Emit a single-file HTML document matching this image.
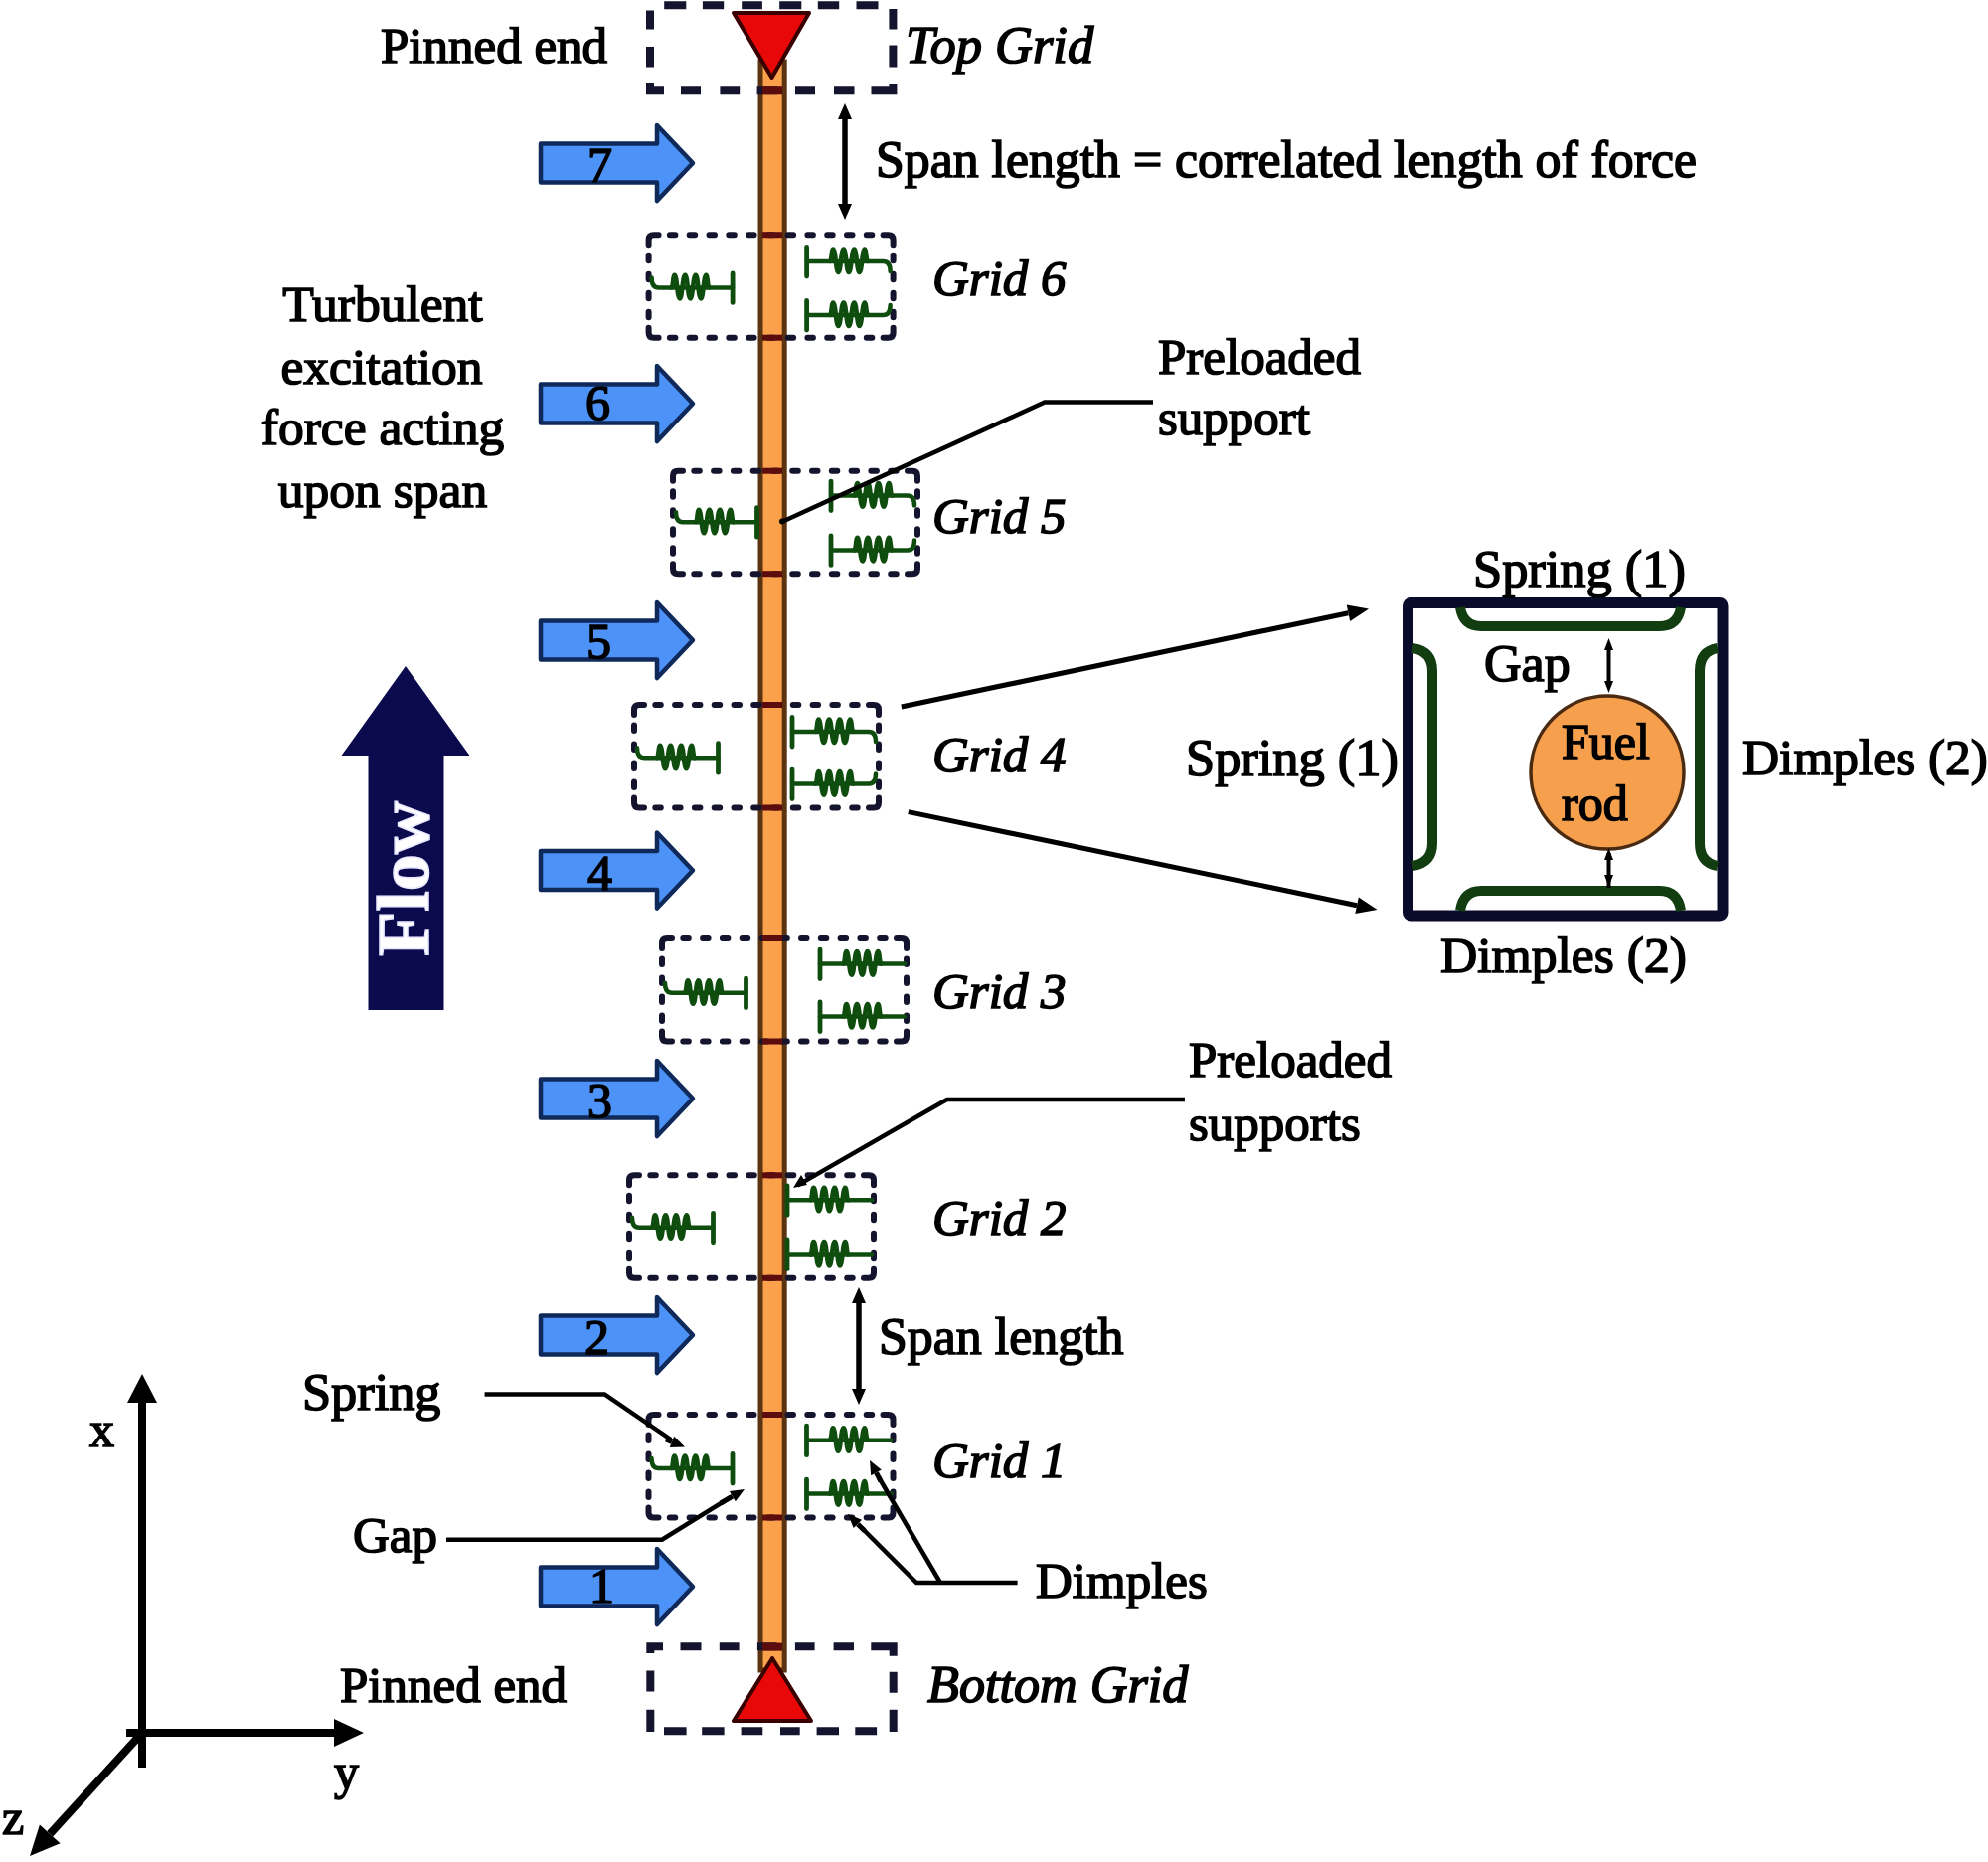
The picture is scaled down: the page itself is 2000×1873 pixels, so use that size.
<!DOCTYPE html><html><head><meta charset="utf-8"><style>html,body{margin:0;padding:0;background:#fff;}svg{display:block;}.t{font-family:"Liberation Serif",serif;fill:#000;stroke:#000;stroke-width:1.6px;}.ti{font-family:"Liberation Serif",serif;font-style:italic;fill:#000;stroke:#000;stroke-width:1.6px;}</style></head><body>
<svg width="2000" height="1873" viewBox="0 0 2000 1873">
<rect width="2000" height="1873" fill="#ffffff"/>
<rect x="765" y="62" width="24.2" height="1618" fill="#fba14c" stroke="#5a3410" stroke-width="5"/>
<path d="M738,13 L814,13 L776.5,78 Z" fill="#e80808" stroke="#3a0000" stroke-width="4" stroke-linejoin="round"/>
<path d="M738,1731 L816,1731 L777,1668 Z" fill="#e80808" stroke="#3a0000" stroke-width="4" stroke-linejoin="round"/>
<path d="M668.2,5.2 L690.3,5.2 M706.9,5.2 L728.2,5.2 M746.2,5.2 L766.9,5.2 M784.2,5.2 L806.3,5.2 M822.8,5.2 L844.2,5.2 M861.5,5.2 L883.5,5.2 M685.0,91.2 L705.0,91.2 M724.4,91.2 L744.2,91.2 M761.6,91.2 L782.2,91.2 M800.0,91.2 L820.0,91.2 M839.0,91.2 L859.5,91.2 M654,10.5 L654,29.6 M654,47.0 L654,67.6 M898.4,9.0 L898.4,29.6 M898.4,45.5 L898.4,67.6 M654,83 L654,91.2 L668,91.2 M876.5,91.2 L898.4,91.2 L898.4,84" fill="none" stroke="#14142e" stroke-width="8" stroke-linecap="butt" stroke-linejoin="miter"/>
<path d="M684.5,1656.3 L705.5,1656.3 M723.8,1656.3 L743.6,1656.3 M761.9,1656.3 L781.6,1656.3 M799.9,1656.3 L819.6,1656.3 M838.6,1656.3 L859.0,1656.3 M668.0,1741.2 L690.6,1741.2 M706.2,1741.2 L728.6,1741.2 M745.6,1741.2 L767.3,1741.2 M785.0,1741.2 L804.7,1741.2 M821.6,1741.2 L844.0,1741.2 M860.3,1741.2 L882.1,1741.2 M654.3,1680.4 L654.3,1701.5 M654.3,1719.8 L654.3,1742.0 M898.7,1681.7 L898.7,1702.8 M898.7,1719.8 L898.7,1742.0 M654.3,1663 L654.3,1656.3 L667,1656.3 M876.3,1656.3 L898.7,1656.3 L898.7,1665.8" fill="none" stroke="#14142e" stroke-width="8" stroke-linecap="butt" stroke-linejoin="miter"/>
<rect x="767" y="87.2" width="20.2" height="8" fill="#5c0c0c"/>
<rect x="767" y="1652.6" width="20.2" height="8" fill="#5c0c0c"/>
<path d="M652.6,246.2 L652.6,241.2 Q652.6,236.2 657.6,236.2 L662.6,236.2 M888.6,236.2 L893.6,236.2 Q898.6,236.2 898.6,241.2 L898.6,246.2 M898.6,329.7 L898.6,334.7 Q898.6,339.7 893.6,339.7 L888.6,339.7 M662.6,339.7 L657.6,339.7 Q652.6,339.7 652.6,334.7 L652.6,329.7 M673.9,236.2 L679.4,236.2 M693.7,236.2 L699.2,236.2 M713.5,236.2 L719.0,236.2 M733.3,236.2 L738.8,236.2 M753.1,236.2 L758.6,236.2 M772.9,236.2 L778.4,236.2 M792.6,236.2 L798.1,236.2 M812.4,236.2 L817.9,236.2 M832.2,236.2 L837.7,236.2 M852.0,236.2 L857.5,236.2 M871.8,236.2 L877.3,236.2 M898.6,256.7 L898.6,262.2 M898.6,275.7 L898.6,281.2 M898.6,294.7 L898.6,300.2 M898.6,313.7 L898.6,319.2 M673.9,339.7 L679.4,339.7 M693.7,339.7 L699.2,339.7 M713.5,339.7 L719.0,339.7 M733.3,339.7 L738.8,339.7 M753.1,339.7 L758.6,339.7 M772.9,339.7 L778.4,339.7 M792.6,339.7 L798.1,339.7 M812.4,339.7 L817.9,339.7 M832.2,339.7 L837.7,339.7 M852.0,339.7 L857.5,339.7 M871.8,339.7 L877.3,339.7 M652.6,256.7 L652.6,262.2 M652.6,275.7 L652.6,281.2 M652.6,294.7 L652.6,300.2 M652.6,313.7 L652.6,319.2" fill="none" stroke="#14142e" stroke-width="6" stroke-linecap="round" stroke-linejoin="round"/>
<rect x="767" y="233.2" width="20.2" height="6" fill="#5c0c0c"/>
<rect x="767" y="336.7" width="20.2" height="6" fill="#5c0c0c"/>
<path d="M655.6,279.4 Q655.6,289.4 662.6,289.4 L675.6,289.4 L737.1,289.4" fill="none" stroke="#0f4d0f" stroke-width="4.5" stroke-linejoin="round" stroke-linecap="round"/>
<path d="M675.6,289.4 C677.1,289.4 677.1,276.9 678.6,276.9 C681.2,276.9 681.2,300.4 683.9,300.4 C686.5,300.4 686.5,276.9 689.2,276.9 C691.8,276.9 691.8,300.4 694.5,300.4 C697.1,300.4 697.1,276.9 699.8,276.9 C702.4,276.9 702.4,300.4 705.1,300.4 C707.7,300.4 707.7,276.9 710.4,276.9 C711.9,276.9 711.9,289.4 713.4,289.4" fill="none" stroke="#0f4d0f" stroke-width="4.6" stroke-linejoin="round" stroke-linecap="round"/>
<line x1="737.1" y1="274.9" x2="737.1" y2="304.4" stroke="#0f4d0f" stroke-width="4.8" stroke-linecap="round"/>
<path d="M811.6,263.0 L888.6,263.0 Q895.6,263.0 895.6,273.0" fill="none" stroke="#0f4d0f" stroke-width="4.5" stroke-linejoin="round" stroke-linecap="round"/>
<path d="M835.1,263.0 C836.6,263.0 836.6,250.5 838.1,250.5 C840.8,250.5 840.8,274.0 843.4,274.0 C846.0,274.0 846.0,250.5 848.7,250.5 C851.3,250.5 851.3,274.0 854.0,274.0 C856.6,274.0 856.6,250.5 859.3,250.5 C861.9,250.5 861.9,274.0 864.6,274.0 C867.2,274.0 867.2,250.5 869.9,250.5 C871.4,250.5 871.4,263.0 872.9,263.0" fill="none" stroke="#0f4d0f" stroke-width="4.6" stroke-linejoin="round" stroke-linecap="round"/>
<line x1="811.6" y1="248.5" x2="811.6" y2="278.0" stroke="#0f4d0f" stroke-width="4.8" stroke-linecap="round"/>
<path d="M811.6,317.0 L888.6,317.0 Q895.6,317.0 895.6,307.0" fill="none" stroke="#0f4d0f" stroke-width="4.5" stroke-linejoin="round" stroke-linecap="round"/>
<path d="M835.1,317.0 C836.6,317.0 836.6,304.5 838.1,304.5 C840.8,304.5 840.8,328.0 843.4,328.0 C846.0,328.0 846.0,304.5 848.7,304.5 C851.3,304.5 851.3,328.0 854.0,328.0 C856.6,328.0 856.6,304.5 859.3,304.5 C861.9,304.5 861.9,328.0 864.6,328.0 C867.2,328.0 867.2,304.5 869.9,304.5 C871.4,304.5 871.4,317.0 872.9,317.0" fill="none" stroke="#0f4d0f" stroke-width="4.6" stroke-linejoin="round" stroke-linecap="round"/>
<line x1="811.6" y1="302.5" x2="811.6" y2="332.0" stroke="#0f4d0f" stroke-width="4.8" stroke-linecap="round"/>
<path d="M677,483.7 L677,478.7 Q677,473.7 682,473.7 L687,473.7 M913,473.7 L918,473.7 Q923,473.7 923,478.7 L923,483.7 M923,567.2 L923,572.2 Q923,577.2 918,577.2 L913,577.2 M687,577.2 L682,577.2 Q677,577.2 677,572.2 L677,567.2 M698.3,473.7 L703.8,473.7 M718.1,473.7 L723.6,473.7 M737.9,473.7 L743.4,473.7 M757.7,473.7 L763.2,473.7 M777.5,473.7 L783.0,473.7 M797.2,473.7 L802.8,473.7 M817.0,473.7 L822.5,473.7 M836.8,473.7 L842.3,473.7 M856.6,473.7 L862.1,473.7 M876.4,473.7 L881.9,473.7 M896.2,473.7 L901.7,473.7 M923.0,494.2 L923.0,499.7 M923.0,513.2 L923.0,518.7 M923.0,532.2 L923.0,537.7 M923.0,551.2 L923.0,556.7 M698.3,577.2 L703.8,577.2 M718.1,577.2 L723.6,577.2 M737.9,577.2 L743.4,577.2 M757.7,577.2 L763.2,577.2 M777.5,577.2 L783.0,577.2 M797.2,577.2 L802.8,577.2 M817.0,577.2 L822.5,577.2 M836.8,577.2 L842.3,577.2 M856.6,577.2 L862.1,577.2 M876.4,577.2 L881.9,577.2 M896.2,577.2 L901.7,577.2 M677.0,494.2 L677.0,499.7 M677.0,513.2 L677.0,518.7 M677.0,532.2 L677.0,537.7 M677.0,551.2 L677.0,556.7" fill="none" stroke="#14142e" stroke-width="6" stroke-linecap="round" stroke-linejoin="round"/>
<rect x="767" y="470.7" width="20.2" height="6" fill="#5c0c0c"/>
<rect x="767" y="574.2" width="20.2" height="6" fill="#5c0c0c"/>
<path d="M680.0,515.2 Q680.0,525.2 687.0,525.2 L700.0,525.2 L761.5,525.2" fill="none" stroke="#0f4d0f" stroke-width="4.5" stroke-linejoin="round" stroke-linecap="round"/>
<path d="M700.0,525.2 C701.5,525.2 701.5,512.7 703.0,512.7 C705.6,512.7 705.6,536.2 708.3,536.2 C710.9,536.2 710.9,512.7 713.6,512.7 C716.2,512.7 716.2,536.2 718.9,536.2 C721.5,536.2 721.5,512.7 724.2,512.7 C726.8,512.7 726.8,536.2 729.5,536.2 C732.1,536.2 732.1,512.7 734.8,512.7 C736.3,512.7 736.3,525.2 737.8,525.2" fill="none" stroke="#0f4d0f" stroke-width="4.6" stroke-linejoin="round" stroke-linecap="round"/>
<line x1="761.5" y1="510.7" x2="761.5" y2="540.2" stroke="#0f4d0f" stroke-width="4.8" stroke-linecap="round"/>
<path d="M836.0,498.6 L913.0,498.6 Q920.0,498.6 920.0,508.6" fill="none" stroke="#0f4d0f" stroke-width="4.5" stroke-linejoin="round" stroke-linecap="round"/>
<path d="M859.5,498.6 C861.0,498.6 861.0,486.1 862.5,486.1 C865.1,486.1 865.1,509.6 867.8,509.6 C870.4,509.6 870.4,486.1 873.1,486.1 C875.7,486.1 875.7,509.6 878.4,509.6 C881.0,509.6 881.0,486.1 883.7,486.1 C886.3,486.1 886.3,509.6 889.0,509.6 C891.6,509.6 891.6,486.1 894.3,486.1 C895.8,486.1 895.8,498.6 897.3,498.6" fill="none" stroke="#0f4d0f" stroke-width="4.6" stroke-linejoin="round" stroke-linecap="round"/>
<line x1="836.0" y1="484.1" x2="836.0" y2="513.6" stroke="#0f4d0f" stroke-width="4.8" stroke-linecap="round"/>
<path d="M836.0,553.4 L913.0,553.4 Q920.0,553.4 920.0,543.4" fill="none" stroke="#0f4d0f" stroke-width="4.5" stroke-linejoin="round" stroke-linecap="round"/>
<path d="M859.5,553.4 C861.0,553.4 861.0,540.9 862.5,540.9 C865.1,540.9 865.1,564.4 867.8,564.4 C870.4,564.4 870.4,540.9 873.1,540.9 C875.7,540.9 875.7,564.4 878.4,564.4 C881.0,564.4 881.0,540.9 883.7,540.9 C886.3,540.9 886.3,564.4 889.0,564.4 C891.6,564.4 891.6,540.9 894.3,540.9 C895.8,540.9 895.8,553.4 897.3,553.4" fill="none" stroke="#0f4d0f" stroke-width="4.6" stroke-linejoin="round" stroke-linecap="round"/>
<line x1="836.0" y1="538.9" x2="836.0" y2="568.4" stroke="#0f4d0f" stroke-width="4.8" stroke-linecap="round"/>
<path d="M638,719 L638,714 Q638,709 643,709 L648,709 M874,709 L879,709 Q884,709 884,714 L884,719 M884,802.5 L884,807.5 Q884,812.5 879,812.5 L874,812.5 M648,812.5 L643,812.5 Q638,812.5 638,807.5 L638,802.5 M659.3,709.0 L664.8,709.0 M679.1,709.0 L684.6,709.0 M698.9,709.0 L704.4,709.0 M718.7,709.0 L724.2,709.0 M738.5,709.0 L744.0,709.0 M758.2,709.0 L763.8,709.0 M778.0,709.0 L783.5,709.0 M797.8,709.0 L803.3,709.0 M817.6,709.0 L823.1,709.0 M837.4,709.0 L842.9,709.0 M857.2,709.0 L862.7,709.0 M884.0,729.5 L884.0,735.0 M884.0,748.5 L884.0,754.0 M884.0,767.5 L884.0,773.0 M884.0,786.5 L884.0,792.0 M659.3,812.5 L664.8,812.5 M679.1,812.5 L684.6,812.5 M698.9,812.5 L704.4,812.5 M718.7,812.5 L724.2,812.5 M738.5,812.5 L744.0,812.5 M758.2,812.5 L763.8,812.5 M778.0,812.5 L783.5,812.5 M797.8,812.5 L803.3,812.5 M817.6,812.5 L823.1,812.5 M837.4,812.5 L842.9,812.5 M857.2,812.5 L862.7,812.5 M638.0,729.5 L638.0,735.0 M638.0,748.5 L638.0,754.0 M638.0,767.5 L638.0,773.0 M638.0,786.5 L638.0,792.0" fill="none" stroke="#14142e" stroke-width="6" stroke-linecap="round" stroke-linejoin="round"/>
<rect x="767" y="706.0" width="20.2" height="6" fill="#5c0c0c"/>
<rect x="767" y="809.5" width="20.2" height="6" fill="#5c0c0c"/>
<path d="M641.0,752.2 Q641.0,762.2 648.0,762.2 L661.0,762.2 L722.5,762.2" fill="none" stroke="#0f4d0f" stroke-width="4.5" stroke-linejoin="round" stroke-linecap="round"/>
<path d="M661.0,762.2 C662.5,762.2 662.5,749.7 664.0,749.7 C666.6,749.7 666.6,773.2 669.3,773.2 C671.9,773.2 671.9,749.7 674.6,749.7 C677.2,749.7 677.2,773.2 679.9,773.2 C682.5,773.2 682.5,749.7 685.2,749.7 C687.8,749.7 687.8,773.2 690.5,773.2 C693.1,773.2 693.1,749.7 695.8,749.7 C697.3,749.7 697.3,762.2 698.8,762.2" fill="none" stroke="#0f4d0f" stroke-width="4.6" stroke-linejoin="round" stroke-linecap="round"/>
<line x1="722.5" y1="747.7" x2="722.5" y2="777.2" stroke="#0f4d0f" stroke-width="4.8" stroke-linecap="round"/>
<path d="M797.0,736.0 L874.0,736.0 Q881.0,736.0 881.0,746.0" fill="none" stroke="#0f4d0f" stroke-width="4.5" stroke-linejoin="round" stroke-linecap="round"/>
<path d="M820.5,736.0 C822.0,736.0 822.0,723.5 823.5,723.5 C826.1,723.5 826.1,747.0 828.8,747.0 C831.4,747.0 831.4,723.5 834.1,723.5 C836.7,723.5 836.7,747.0 839.4,747.0 C842.0,747.0 842.0,723.5 844.7,723.5 C847.3,723.5 847.3,747.0 850.0,747.0 C852.6,747.0 852.6,723.5 855.3,723.5 C856.8,723.5 856.8,736.0 858.3,736.0" fill="none" stroke="#0f4d0f" stroke-width="4.6" stroke-linejoin="round" stroke-linecap="round"/>
<line x1="797.0" y1="721.5" x2="797.0" y2="751.0" stroke="#0f4d0f" stroke-width="4.8" stroke-linecap="round"/>
<path d="M797.0,788.6 L874.0,788.6 Q881.0,788.6 881.0,778.6" fill="none" stroke="#0f4d0f" stroke-width="4.5" stroke-linejoin="round" stroke-linecap="round"/>
<path d="M820.5,788.6 C822.0,788.6 822.0,776.1 823.5,776.1 C826.1,776.1 826.1,799.6 828.8,799.6 C831.4,799.6 831.4,776.1 834.1,776.1 C836.7,776.1 836.7,799.6 839.4,799.6 C842.0,799.6 842.0,776.1 844.7,776.1 C847.3,776.1 847.3,799.6 850.0,799.6 C852.6,799.6 852.6,776.1 855.3,776.1 C856.8,776.1 856.8,788.6 858.3,788.6" fill="none" stroke="#0f4d0f" stroke-width="4.6" stroke-linejoin="round" stroke-linecap="round"/>
<line x1="797.0" y1="774.1" x2="797.0" y2="803.6" stroke="#0f4d0f" stroke-width="4.8" stroke-linecap="round"/>
<path d="M666,954 L666,949 Q666,944 671,944 L676,944 M902,944 L907,944 Q912,944 912,949 L912,954 M912,1037.5 L912,1042.5 Q912,1047.5 907,1047.5 L902,1047.5 M676,1047.5 L671,1047.5 Q666,1047.5 666,1042.5 L666,1037.5 M687.3,944.0 L692.8,944.0 M707.1,944.0 L712.6,944.0 M726.9,944.0 L732.4,944.0 M746.7,944.0 L752.2,944.0 M766.5,944.0 L772.0,944.0 M786.2,944.0 L791.8,944.0 M806.0,944.0 L811.5,944.0 M825.8,944.0 L831.3,944.0 M845.6,944.0 L851.1,944.0 M865.4,944.0 L870.9,944.0 M885.2,944.0 L890.7,944.0 M912.0,964.5 L912.0,970.0 M912.0,983.5 L912.0,989.0 M912.0,1002.5 L912.0,1008.0 M912.0,1021.5 L912.0,1027.0 M687.3,1047.5 L692.8,1047.5 M707.1,1047.5 L712.6,1047.5 M726.9,1047.5 L732.4,1047.5 M746.7,1047.5 L752.2,1047.5 M766.5,1047.5 L772.0,1047.5 M786.2,1047.5 L791.8,1047.5 M806.0,1047.5 L811.5,1047.5 M825.8,1047.5 L831.3,1047.5 M845.6,1047.5 L851.1,1047.5 M865.4,1047.5 L870.9,1047.5 M885.2,1047.5 L890.7,1047.5 M666.0,964.5 L666.0,970.0 M666.0,983.5 L666.0,989.0 M666.0,1002.5 L666.0,1008.0 M666.0,1021.5 L666.0,1027.0" fill="none" stroke="#14142e" stroke-width="6" stroke-linecap="round" stroke-linejoin="round"/>
<rect x="767" y="941.0" width="20.2" height="6" fill="#5c0c0c"/>
<rect x="767" y="1044.5" width="20.2" height="6" fill="#5c0c0c"/>
<path d="M669.0,988.7 Q669.0,998.7 676.0,998.7 L689.0,998.7 L750.5,998.7" fill="none" stroke="#0f4d0f" stroke-width="4.5" stroke-linejoin="round" stroke-linecap="round"/>
<path d="M689.0,998.7 C690.5,998.7 690.5,986.2 692.0,986.2 C694.6,986.2 694.6,1009.7 697.3,1009.7 C699.9,1009.7 699.9,986.2 702.6,986.2 C705.2,986.2 705.2,1009.7 707.9,1009.7 C710.5,1009.7 710.5,986.2 713.2,986.2 C715.8,986.2 715.8,1009.7 718.5,1009.7 C721.1,1009.7 721.1,986.2 723.8,986.2 C725.3,986.2 725.3,998.7 726.8,998.7" fill="none" stroke="#0f4d0f" stroke-width="4.6" stroke-linejoin="round" stroke-linecap="round"/>
<line x1="750.5" y1="984.2" x2="750.5" y2="1013.7" stroke="#0f4d0f" stroke-width="4.8" stroke-linecap="round"/>
<path d="M825.0,969.6 L910.0,969.6" fill="none" stroke="#0f4d0f" stroke-width="4.5" stroke-linejoin="round" stroke-linecap="round"/>
<path d="M848.5,969.6 C850.0,969.6 850.0,957.1 851.5,957.1 C854.1,957.1 854.1,980.6 856.8,980.6 C859.4,980.6 859.4,957.1 862.1,957.1 C864.7,957.1 864.7,980.6 867.4,980.6 C870.0,980.6 870.0,957.1 872.7,957.1 C875.3,957.1 875.3,980.6 878.0,980.6 C880.6,980.6 880.6,957.1 883.3,957.1 C884.8,957.1 884.8,969.6 886.3,969.6" fill="none" stroke="#0f4d0f" stroke-width="4.6" stroke-linejoin="round" stroke-linecap="round"/>
<line x1="825.0" y1="955.1" x2="825.0" y2="984.6" stroke="#0f4d0f" stroke-width="4.8" stroke-linecap="round"/>
<path d="M825.0,1022.5 L910.0,1022.5" fill="none" stroke="#0f4d0f" stroke-width="4.5" stroke-linejoin="round" stroke-linecap="round"/>
<path d="M848.5,1022.5 C850.0,1022.5 850.0,1010.0 851.5,1010.0 C854.1,1010.0 854.1,1033.5 856.8,1033.5 C859.4,1033.5 859.4,1010.0 862.1,1010.0 C864.7,1010.0 864.7,1033.5 867.4,1033.5 C870.0,1033.5 870.0,1010.0 872.7,1010.0 C875.3,1010.0 875.3,1033.5 878.0,1033.5 C880.6,1033.5 880.6,1010.0 883.3,1010.0 C884.8,1010.0 884.8,1022.5 886.3,1022.5" fill="none" stroke="#0f4d0f" stroke-width="4.6" stroke-linejoin="round" stroke-linecap="round"/>
<line x1="825.0" y1="1008.0" x2="825.0" y2="1037.5" stroke="#0f4d0f" stroke-width="4.8" stroke-linecap="round"/>
<path d="M633,1192.3 L633,1187.3 Q633,1182.3 638,1182.3 L643,1182.3 M869,1182.3 L874,1182.3 Q879,1182.3 879,1187.3 L879,1192.3 M879,1275.8 L879,1280.8 Q879,1285.8 874,1285.8 L869,1285.8 M643,1285.8 L638,1285.8 Q633,1285.8 633,1280.8 L633,1275.8 M654.3,1182.3 L659.8,1182.3 M674.1,1182.3 L679.6,1182.3 M693.9,1182.3 L699.4,1182.3 M713.7,1182.3 L719.2,1182.3 M733.5,1182.3 L739.0,1182.3 M753.2,1182.3 L758.8,1182.3 M773.0,1182.3 L778.5,1182.3 M792.8,1182.3 L798.3,1182.3 M812.6,1182.3 L818.1,1182.3 M832.4,1182.3 L837.9,1182.3 M852.2,1182.3 L857.7,1182.3 M879.0,1202.8 L879.0,1208.3 M879.0,1221.8 L879.0,1227.3 M879.0,1240.8 L879.0,1246.3 M879.0,1259.8 L879.0,1265.3 M654.3,1285.8 L659.8,1285.8 M674.1,1285.8 L679.6,1285.8 M693.9,1285.8 L699.4,1285.8 M713.7,1285.8 L719.2,1285.8 M733.5,1285.8 L739.0,1285.8 M753.2,1285.8 L758.8,1285.8 M773.0,1285.8 L778.5,1285.8 M792.8,1285.8 L798.3,1285.8 M812.6,1285.8 L818.1,1285.8 M832.4,1285.8 L837.9,1285.8 M852.2,1285.8 L857.7,1285.8 M633.0,1202.8 L633.0,1208.3 M633.0,1221.8 L633.0,1227.3 M633.0,1240.8 L633.0,1246.3 M633.0,1259.8 L633.0,1265.3" fill="none" stroke="#14142e" stroke-width="6" stroke-linecap="round" stroke-linejoin="round"/>
<rect x="767" y="1179.3" width="20.2" height="6" fill="#5c0c0c"/>
<rect x="767" y="1282.8" width="20.2" height="6" fill="#5c0c0c"/>
<path d="M636.0,1224.8 Q636.0,1234.8 643.0,1234.8 L656.0,1234.8 L717.5,1234.8" fill="none" stroke="#0f4d0f" stroke-width="4.5" stroke-linejoin="round" stroke-linecap="round"/>
<path d="M656.0,1234.8 C657.5,1234.8 657.5,1222.3 659.0,1222.3 C661.6,1222.3 661.6,1245.8 664.3,1245.8 C666.9,1245.8 666.9,1222.3 669.6,1222.3 C672.2,1222.3 672.2,1245.8 674.9,1245.8 C677.5,1245.8 677.5,1222.3 680.2,1222.3 C682.8,1222.3 682.8,1245.8 685.5,1245.8 C688.1,1245.8 688.1,1222.3 690.8,1222.3 C692.3,1222.3 692.3,1234.8 693.8,1234.8" fill="none" stroke="#0f4d0f" stroke-width="4.6" stroke-linejoin="round" stroke-linecap="round"/>
<line x1="717.5" y1="1220.3" x2="717.5" y2="1249.8" stroke="#0f4d0f" stroke-width="4.8" stroke-linecap="round"/>
<path d="M792.0,1207.3 L877.0,1207.3" fill="none" stroke="#0f4d0f" stroke-width="4.5" stroke-linejoin="round" stroke-linecap="round"/>
<path d="M815.5,1207.3 C817.0,1207.3 817.0,1194.8 818.5,1194.8 C821.1,1194.8 821.1,1218.3 823.8,1218.3 C826.4,1218.3 826.4,1194.8 829.1,1194.8 C831.7,1194.8 831.7,1218.3 834.4,1218.3 C837.0,1218.3 837.0,1194.8 839.7,1194.8 C842.3,1194.8 842.3,1218.3 845.0,1218.3 C847.6,1218.3 847.6,1194.8 850.3,1194.8 C851.8,1194.8 851.8,1207.3 853.3,1207.3" fill="none" stroke="#0f4d0f" stroke-width="4.6" stroke-linejoin="round" stroke-linecap="round"/>
<line x1="792.0" y1="1192.8" x2="792.0" y2="1222.3" stroke="#0f4d0f" stroke-width="4.8" stroke-linecap="round"/>
<path d="M792.0,1261.5 L877.0,1261.5" fill="none" stroke="#0f4d0f" stroke-width="4.5" stroke-linejoin="round" stroke-linecap="round"/>
<path d="M815.5,1261.5 C817.0,1261.5 817.0,1249.0 818.5,1249.0 C821.1,1249.0 821.1,1272.5 823.8,1272.5 C826.4,1272.5 826.4,1249.0 829.1,1249.0 C831.7,1249.0 831.7,1272.5 834.4,1272.5 C837.0,1272.5 837.0,1249.0 839.7,1249.0 C842.3,1249.0 842.3,1272.5 845.0,1272.5 C847.6,1272.5 847.6,1249.0 850.3,1249.0 C851.8,1249.0 851.8,1261.5 853.3,1261.5" fill="none" stroke="#0f4d0f" stroke-width="4.6" stroke-linejoin="round" stroke-linecap="round"/>
<line x1="792.0" y1="1247.0" x2="792.0" y2="1276.5" stroke="#0f4d0f" stroke-width="4.8" stroke-linecap="round"/>
<path d="M652.5,1433 L652.5,1428 Q652.5,1423 657.5,1423 L662.5,1423 M888.5,1423 L893.5,1423 Q898.5,1423 898.5,1428 L898.5,1433 M898.5,1516.5 L898.5,1521.5 Q898.5,1526.5 893.5,1526.5 L888.5,1526.5 M662.5,1526.5 L657.5,1526.5 Q652.5,1526.5 652.5,1521.5 L652.5,1516.5 M673.8,1423.0 L679.3,1423.0 M693.6,1423.0 L699.1,1423.0 M713.4,1423.0 L718.9,1423.0 M733.2,1423.0 L738.7,1423.0 M753.0,1423.0 L758.5,1423.0 M772.8,1423.0 L778.2,1423.0 M792.5,1423.0 L798.0,1423.0 M812.3,1423.0 L817.8,1423.0 M832.1,1423.0 L837.6,1423.0 M851.9,1423.0 L857.4,1423.0 M871.7,1423.0 L877.2,1423.0 M898.5,1443.5 L898.5,1449.0 M898.5,1462.5 L898.5,1468.0 M898.5,1481.5 L898.5,1487.0 M898.5,1500.5 L898.5,1506.0 M673.8,1526.5 L679.3,1526.5 M693.6,1526.5 L699.1,1526.5 M713.4,1526.5 L718.9,1526.5 M733.2,1526.5 L738.7,1526.5 M753.0,1526.5 L758.5,1526.5 M772.8,1526.5 L778.2,1526.5 M792.5,1526.5 L798.0,1526.5 M812.3,1526.5 L817.8,1526.5 M832.1,1526.5 L837.6,1526.5 M851.9,1526.5 L857.4,1526.5 M871.7,1526.5 L877.2,1526.5 M652.5,1443.5 L652.5,1449.0 M652.5,1462.5 L652.5,1468.0 M652.5,1481.5 L652.5,1487.0 M652.5,1500.5 L652.5,1506.0" fill="none" stroke="#14142e" stroke-width="6" stroke-linecap="round" stroke-linejoin="round"/>
<rect x="767" y="1420.0" width="20.2" height="6" fill="#5c0c0c"/>
<rect x="767" y="1523.5" width="20.2" height="6" fill="#5c0c0c"/>
<path d="M655.5,1467.0 Q655.5,1477.0 662.5,1477.0 L675.5,1477.0 L737.0,1477.0" fill="none" stroke="#0f4d0f" stroke-width="4.5" stroke-linejoin="round" stroke-linecap="round"/>
<path d="M675.5,1477.0 C677.0,1477.0 677.0,1464.5 678.5,1464.5 C681.1,1464.5 681.1,1488.0 683.8,1488.0 C686.4,1488.0 686.4,1464.5 689.1,1464.5 C691.7,1464.5 691.7,1488.0 694.4,1488.0 C697.0,1488.0 697.0,1464.5 699.7,1464.5 C702.3,1464.5 702.3,1488.0 705.0,1488.0 C707.6,1488.0 707.6,1464.5 710.3,1464.5 C711.8,1464.5 711.8,1477.0 713.3,1477.0" fill="none" stroke="#0f4d0f" stroke-width="4.6" stroke-linejoin="round" stroke-linecap="round"/>
<line x1="737.0" y1="1462.5" x2="737.0" y2="1492.0" stroke="#0f4d0f" stroke-width="4.8" stroke-linecap="round"/>
<path d="M811.5,1448.7 L896.5,1448.7" fill="none" stroke="#0f4d0f" stroke-width="4.5" stroke-linejoin="round" stroke-linecap="round"/>
<path d="M835.0,1448.7 C836.5,1448.7 836.5,1436.2 838.0,1436.2 C840.6,1436.2 840.6,1459.7 843.3,1459.7 C845.9,1459.7 845.9,1436.2 848.6,1436.2 C851.2,1436.2 851.2,1459.7 853.9,1459.7 C856.5,1459.7 856.5,1436.2 859.2,1436.2 C861.8,1436.2 861.8,1459.7 864.5,1459.7 C867.1,1459.7 867.1,1436.2 869.8,1436.2 C871.3,1436.2 871.3,1448.7 872.8,1448.7" fill="none" stroke="#0f4d0f" stroke-width="4.6" stroke-linejoin="round" stroke-linecap="round"/>
<line x1="811.5" y1="1434.2" x2="811.5" y2="1463.7" stroke="#0f4d0f" stroke-width="4.8" stroke-linecap="round"/>
<path d="M811.5,1502.6 L896.5,1502.6" fill="none" stroke="#0f4d0f" stroke-width="4.5" stroke-linejoin="round" stroke-linecap="round"/>
<path d="M835.0,1502.6 C836.5,1502.6 836.5,1490.1 838.0,1490.1 C840.6,1490.1 840.6,1513.6 843.3,1513.6 C845.9,1513.6 845.9,1490.1 848.6,1490.1 C851.2,1490.1 851.2,1513.6 853.9,1513.6 C856.5,1513.6 856.5,1490.1 859.2,1490.1 C861.8,1490.1 861.8,1513.6 864.5,1513.6 C867.1,1513.6 867.1,1490.1 869.8,1490.1 C871.3,1490.1 871.3,1502.6 872.8,1502.6" fill="none" stroke="#0f4d0f" stroke-width="4.6" stroke-linejoin="round" stroke-linecap="round"/>
<line x1="811.5" y1="1488.1" x2="811.5" y2="1517.6" stroke="#0f4d0f" stroke-width="4.8" stroke-linecap="round"/>
<path d="M544,144.5 L661,144.5 L661,126 L697,164 L661,202 L661,183.5 L544,183.5 Z" fill="#4d92f6" stroke="#0f2a5a" stroke-width="4.5" stroke-linejoin="round"/>
<text x="591" y="183" class="t" font-size="50">7</text>
<path d="M544,386.5 L661,386.5 L661,368 L697,406 L661,444 L661,425.5 L544,425.5 Z" fill="#4d92f6" stroke="#0f2a5a" stroke-width="4.5" stroke-linejoin="round"/>
<text x="589" y="422" class="t" font-size="50">6</text>
<path d="M544,624.5 L661,624.5 L661,606 L697,644 L661,682 L661,663.5 L544,663.5 Z" fill="#4d92f6" stroke="#0f2a5a" stroke-width="4.5" stroke-linejoin="round"/>
<text x="590" y="661.5" class="t" font-size="50">5</text>
<path d="M544,856.0 L661,856.0 L661,837.5 L697,875.5 L661,913.5 L661,895.0 L544,895.0 Z" fill="#4d92f6" stroke="#0f2a5a" stroke-width="4.5" stroke-linejoin="round"/>
<text x="591" y="894.5" class="t" font-size="50">4</text>
<path d="M544,1085.5 L661,1085.5 L661,1067 L697,1105 L661,1143 L661,1124.5 L544,1124.5 Z" fill="#4d92f6" stroke="#0f2a5a" stroke-width="4.5" stroke-linejoin="round"/>
<text x="591" y="1124" class="t" font-size="50">3</text>
<path d="M544,1323.5 L661,1323.5 L661,1305 L697,1343 L661,1381 L661,1362.5 L544,1362.5 Z" fill="#4d92f6" stroke="#0f2a5a" stroke-width="4.5" stroke-linejoin="round"/>
<text x="588" y="1362" class="t" font-size="50">2</text>
<path d="M544,1576.5 L661,1576.5 L661,1558 L697,1596 L661,1634 L661,1615.5 L544,1615.5 Z" fill="#4d92f6" stroke="#0f2a5a" stroke-width="4.5" stroke-linejoin="round"/>
<text x="593" y="1612" class="t" font-size="50">1</text>
<path d="M408,670 L472.5,760 L446.5,760 L446.5,1016 L370.5,1016 L370.5,760 L343.5,760 Z" fill="#0a0a4c"/>
<text x="0" y="0" font-size="74" font-weight="bold" style="font-family:'Liberation Serif',serif;fill:#fff;stroke:#e8e8ff;stroke-width:1.5px" transform="translate(431,962) rotate(-90)">Flow</text>
<line x1="850" y1="118" x2="850" y2="207" stroke="#000" stroke-width="5.5"/>
<path d="M850,104 L857,120 L843,120 Z" fill="#000"/>
<path d="M850,221 L857,205 L843,205 Z" fill="#000"/>
<line x1="864" y1="1309" x2="864" y2="1399" stroke="#000" stroke-width="5.5"/>
<path d="M864,1295 L871,1311 L857,1311 Z" fill="#000"/>
<path d="M864,1413 L871,1397 L857,1397 Z" fill="#000"/>
<polyline points="786,525.2 1051,404.5 1160,404.5" fill="none" stroke="#000" stroke-width="4.5"/>
<circle cx="787" cy="524.5" r="3" fill="#000"/>
<polyline points="802,1192.6 952.7,1106 1192,1106" fill="none" stroke="#000" stroke-width="4.5"/>
<path d="M798,1195 L806,1182 L812,1192 Z" fill="#000"/>
<line x1="906.8" y1="711" x2="1356.4" y2="616.7" stroke="#000" stroke-width="5"/>
<path d="M1377,612.4 L1358.2,625.0 L1354.7,608.4 Z" fill="#000"/>
<line x1="913.8" y1="816.6" x2="1365.0" y2="910.7" stroke="#000" stroke-width="5"/>
<path d="M1385.6,915 L1363.3,919.0 L1366.8,902.4 Z" fill="#000"/>
<polyline points="487.6,1402.4 608.3,1402.4 675,1448" fill="none" stroke="#000" stroke-width="4.5"/>
<line x1="670" y1="1448" x2="676.0" y2="1450.4" stroke="#000" stroke-width="5"/>
<path d="M689,1455.5 L673.8,1455.9 L678.2,1444.8 Z" fill="#000"/>
<polyline points="449,1548.7 666,1548.7 735,1506" fill="none" stroke="#000" stroke-width="4.5"/>
<line x1="725" y1="1512" x2="736.9" y2="1505.1" stroke="#000" stroke-width="5"/>
<path d="M749,1498 L739.9,1510.2 L733.9,1499.9 Z" fill="#000"/>
<polyline points="1023.6,1592 922,1592 864,1534" fill="none" stroke="#000" stroke-width="4.5"/>
<line x1="870" y1="1540" x2="862.9" y2="1532.9" stroke="#000" stroke-width="5"/>
<path d="M853,1523 L867.1,1528.7 L858.7,1537.1 Z" fill="#000"/>
<polyline points="946,1592 884,1486" fill="none" stroke="#000" stroke-width="4.5"/>
<line x1="886" y1="1490" x2="881.5" y2="1481.4" stroke="#000" stroke-width="5"/>
<path d="M875,1469 L886.8,1478.6 L876.2,1484.2 Z" fill="#000"/>
<rect x="1416.5" y="606.5" width="316.5" height="314.5" rx="3" fill="none" stroke="#0a0a2a" stroke-width="11"/>
<path d="M1469,611 Q1472,630 1490,630 L1670,630 Q1688,630 1691,611" fill="none" stroke="#113d11" stroke-width="10"/>
<path d="M1469,916 Q1472,896 1490,896 L1670,896 Q1688,896 1691,916" fill="none" stroke="#113d11" stroke-width="10"/>
<path d="M1421,652 Q1441,655 1441,675 L1441,848 Q1441,868 1421,871" fill="none" stroke="#113d11" stroke-width="10"/>
<path d="M1728,652 Q1710,655 1710,675 L1710,848 Q1710,868 1728,871" fill="none" stroke="#113d11" stroke-width="10"/>
<circle cx="1617" cy="777" r="77" fill="#f6a04e" stroke="#4a2a10" stroke-width="3.5"/>
<line x1="1618.5" y1="648" x2="1618.5" y2="690" stroke="#000" stroke-width="4"/>
<path d="M1618.5,642 L1623,654 L1614,654 Z" fill="#000"/><path d="M1618.5,697 L1623,685 L1614,685 Z" fill="#000"/>
<line x1="1618.5" y1="858" x2="1618.5" y2="893" stroke="#000" stroke-width="4"/>
<path d="M1618.5,853 L1623,865 L1614,865 Z" fill="#000"/><path d="M1618.5,892 L1623,880 L1614,880 Z" fill="#000"/>
<line x1="143" y1="1400" x2="143" y2="1778" stroke="#000" stroke-width="8"/>
<path d="M143,1382 L158,1411 L128,1411 Z" fill="#000"/>
<line x1="127" y1="1743" x2="340" y2="1743" stroke="#000" stroke-width="8"/>
<path d="M366,1743 L336,1729 L336,1757 Z" fill="#000"/>
<line x1="143" y1="1743" x2="50.2" y2="1844.8" stroke="#000" stroke-width="8"/>
<path d="M30,1867 L39.9,1835.4 L60.6,1854.3 Z" fill="#000"/>
<text x="383" y="63" class="t" font-size="51" text-anchor="start" >Pinned end</text>
<text x="911" y="63" class="ti" font-size="52.5" text-anchor="start" >Top Grid</text>
<text x="881" y="178" class="t" font-size="51.8" text-anchor="start" >Span length = correlated length of force</text>
<text x="938" y="297" class="ti" font-size="51" text-anchor="start" >Grid 6</text>
<text x="385" y="323" class="t" font-size="51.5" text-anchor="middle" >Turbulent</text>
<text x="384" y="385.5" class="t" font-size="51.5" text-anchor="middle" >excitation</text>
<text x="385" y="447" class="t" font-size="51.5" text-anchor="middle" >force acting</text>
<text x="385" y="510" class="t" font-size="51.5" text-anchor="middle" >upon span</text>
<text x="1165" y="376" class="t" font-size="51" text-anchor="start" >Preloaded</text>
<text x="1165" y="437" class="t" font-size="51" text-anchor="start" >support</text>
<text x="938" y="536" class="ti" font-size="51" text-anchor="start" >Grid 5</text>
<text x="1482" y="590" class="t" font-size="52.4" text-anchor="start" >Spring (1)</text>
<text x="1493" y="685" class="t" font-size="52" text-anchor="start" >Gap</text>
<text x="938" y="776" class="ti" font-size="51" text-anchor="start" >Grid 4</text>
<text x="1193" y="780" class="t" font-size="52.4" text-anchor="start" >Spring (1)</text>
<text x="1571" y="763" class="t" font-size="50" text-anchor="start" >Fuel</text>
<text x="1571" y="825" class="t" font-size="50" text-anchor="start" >rod</text>
<text x="1753" y="778.6" class="t" font-size="51.4" text-anchor="start" >Dimples (2)</text>
<text x="1449" y="978" class="t" font-size="51.6" text-anchor="start" >Dimples (2)</text>
<text x="938" y="1014" class="ti" font-size="51" text-anchor="start" >Grid 3</text>
<text x="1196" y="1083" class="t" font-size="51" text-anchor="start" >Preloaded</text>
<text x="1196" y="1147" class="t" font-size="51" text-anchor="start" >supports</text>
<text x="938" y="1242" class="ti" font-size="51" text-anchor="start" >Grid 2</text>
<text x="884" y="1362" class="t" font-size="51.9" text-anchor="start" >Span length</text>
<text x="304" y="1418" class="t" font-size="52.3" text-anchor="start" >Spring</text>
<text x="938" y="1486" class="ti" font-size="51" text-anchor="start" >Grid 1</text>
<text x="355" y="1561" class="t" font-size="51" text-anchor="start" >Gap</text>
<text x="1042" y="1607" class="t" font-size="51" text-anchor="start" >Dimples</text>
<text x="342" y="1712" class="t" font-size="51" text-anchor="start" >Pinned end</text>
<text x="933" y="1712" class="ti" font-size="52.2" text-anchor="start" >Bottom Grid</text>
<text x="90" y="1455" class="t" font-size="50" text-anchor="start" >x</text>
<text x="336" y="1799" class="t" font-size="50" text-anchor="start" >y</text>
<text x="2" y="1845" class="t" font-size="50" text-anchor="start" >z</text>
</svg></body></html>
